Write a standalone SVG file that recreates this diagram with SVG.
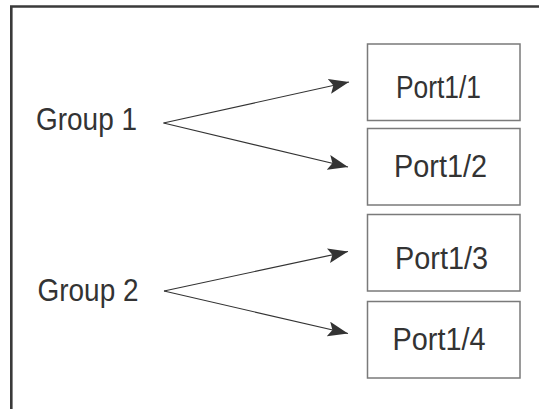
<svg xmlns="http://www.w3.org/2000/svg" width="539" height="409" viewBox="0 0 539 409">
<style>
.frame{stroke:#3a3a3a;stroke-width:2.6;fill:none}
.box{fill:#fff;stroke:#7a7a7a;stroke-width:1.5}
.lbl{font-family:"Liberation Sans",Arial,sans-serif;font-size:32px;fill:#333}
.edge{stroke:#333;stroke-width:1.2;fill:none;marker-end:url(#ah)}
</style>
<defs>
<marker id="ah" markerUnits="userSpaceOnUse" markerWidth="22" markerHeight="16" refX="20" refY="7.5" orient="auto" viewBox="0 0 22 16">
<path d="M0,0 L20,7.5 L0,15 L4,7.5 Z" fill="#333"/>
</marker>
</defs>
<rect width="539" height="409" fill="#fff"/>
<path class="frame" d="M11.3,409 L11.3,6.5 L539,6.5"/>
<g id="group1"><text class="lbl" x="36" y="130" textLength="101" lengthAdjust="spacingAndGlyphs">Group 1</text></g>
<g id="group2"><text class="lbl" x="37.5" y="300.5" textLength="101" lengthAdjust="spacingAndGlyphs">Group 2</text></g>
<g id="port11"><rect class="box" x="367.5" y="44" width="152.5" height="76.5"/><text class="lbl" x="396" y="97.5" textLength="85" lengthAdjust="spacingAndGlyphs">Port1/1</text></g>
<g id="port12"><rect class="box" x="367.5" y="128.5" width="152.5" height="76.5"/><text class="lbl" x="394" y="177" textLength="93" lengthAdjust="spacingAndGlyphs">Port1/2</text></g>
<g id="port13"><rect class="box" x="367.5" y="214.5" width="152.5" height="76.5"/><text class="lbl" x="395" y="268.5" textLength="93" lengthAdjust="spacingAndGlyphs">Port1/3</text></g>
<g id="port14"><rect class="box" x="367.5" y="301.5" width="152.5" height="76.5"/><text class="lbl" x="392.5" y="350" textLength="93" lengthAdjust="spacingAndGlyphs">Port1/4</text></g>
<g id="connectors">
<path class="edge" d="M163.5,123 L349,82"/>
<path class="edge" d="M163.5,123 L348,167"/>
<path class="edge" d="M164,291 L348,251.5"/>
<path class="edge" d="M164,291 L348,333.5"/>
</g>
</svg>
